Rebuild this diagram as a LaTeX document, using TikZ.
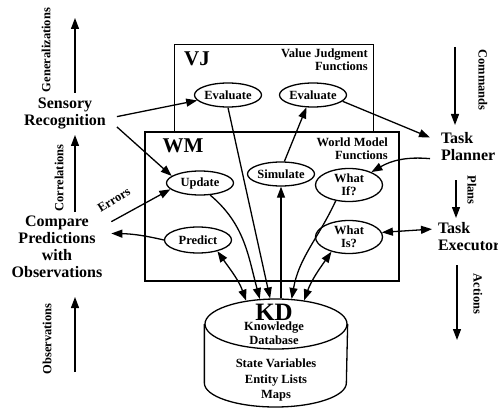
\documentclass[tikz,border=0pt]{standalone}
\usepackage{fontspec}
\setmainfont{Liberation Serif}
\usetikzlibrary{arrows.meta,shapes.geometric}
\begin{document}
\begin{tikzpicture}[x=1pt,y=-1pt,
  tip/.tip={Triangle[length=11pt,width=8pt]},
  arr/.style={line width=1.3pt,-tip},
  darr/.style={line width=1.3pt,tip-tip},
  fn/.style={draw,ellipse,line width=1.3pt,inner sep=0pt,minimum width=67pt,minimum height=24pt,
    font=\bfseries\fontsize{12.5}{13}\selectfont,align=center},
  big/.style={font=\bfseries\fontsize{16}{17}\selectfont,align=center,inner sep=0pt,outer xsep=11pt,outer ysep=3pt},
  small/.style={font=\bfseries\fontsize{12.5}{13}\selectfont,inner sep=0pt},
  huge/.style={font=\bfseries\fontsize{21}{21}\selectfont,inner sep=0pt}]
\useasboundingbox (0,0) rectangle (498,409);

% boxes
\draw[line width=0.8pt] (174,132) -- (174,44) -- (373,44) -- (373,132);
\draw[line width=1.8pt] (145,132) rectangle (399,281);

\node[huge] (vj) at (197,59) {VJ};
\node[small,align=right,anchor=east] (vjf) at (368,60) {Value Judgment\\Functions};
\node[huge] (wm) at (183,146) {WM};
\node[small,align=right,anchor=east] (wmf) at (388,149) {World Model\\Functions};

% function ellipses
\node[fn] (eval1) at (228,95) {Evaluate};
\node[fn] (eval2) at (313,95) {Evaluate};
\node[fn] (simulate) at (281,174) {Simulate};
\node[fn] (update) at (200,183) {Update};
\node[fn,minimum height=26pt] (predict) at (198,240) {Predict};
\node[fn,minimum height=33pt] (whatif) at (349,185) {What\\If?};
\node[fn,minimum height=33pt] (whatis) at (349,237) {What\\Is?};

% KD cylinder
\node[draw,ellipse,line width=1.3pt,minimum width=142pt,minimum height=50pt,inner sep=0pt] (kd) at (276,324) {};
\draw[line width=1.3pt] (kd.west) -- ++(0,59) arc[start angle=180,end angle=360,x radius=71pt,y radius=24pt] -- (kd.east);
\node[font=\bfseries\fontsize{25}{25}\selectfont,inner sep=0pt] (kdlabel) at (274,312) {KD};
\node[small,align=center,font=\bfseries\fontsize{12.5}{14}\selectfont] (kdname) at (274,333) {Knowledge\\Database};
\node[small,align=center,font=\bfseries\fontsize{12.5}{15.5}\selectfont] (kdcontent) at (276,380) {State Variables\\Entity Lists\\Maps};

% side texts
\node[big] (sensory) at (65,113) {Sensory\\Recognition};
\node[big,outer xsep=9pt] (compare) at (57,247) {Compare\\Predictions\\with\\Observations};
\node[big,align=left,anchor=west] (planner) at (430,147) {Task\\Planner};
\node[big,align=left,anchor=west,outer xsep=6pt] (executor) at (432,237) {Task\\Executor};

% vertical flow arrows
\coordinate (g0) at (75,93);  \coordinate (g1) at (75,18);
\coordinate (c0) at (75,212); \coordinate (c1) at (75,135);
\coordinate (o0) at (75,372); \coordinate (o1) at (75,297);
\coordinate (m0) at (455,47); \coordinate (m1) at (455,125);
\coordinate (p0) at (456,180); \coordinate (p1) at (456,218);
\coordinate (a0) at (457,265); \coordinate (a1) at (457,340);
\draw[arr] (g0) -- (g1);
\draw[arr] (c0) -- (c1);
\draw[arr] (o0) -- (o1);
\draw[arr] (m0) -- (m1);
\draw[arr] (p0) -- (p1);
\draw[arr] (a0) -- (a1);

\node[small,rotate=90] (lgen) at (46,50) {Generalizations};
\node[small,rotate=90] (lcor) at (59,178) {Correlations};
\node[small,rotate=90] (lobs) at (47,339) {Observations};
\node[small,rotate=-90] (lcom) at (483,80) {Commands};
\node[small,rotate=-90] (lpla) at (472,190) {Plans};
\node[small,rotate=-90] (lact) at (478,294) {Actions};
\node[small,rotate=32] (lerr) at (114,200) {Errors};

% connectors
\draw[arr] (sensory.-4) -- (eval1.190);
\draw[arr] (sensory.-15) -- (update.166);
\draw[arr] (compare.25) -- (update.192);
\draw[arr] (predict.west) to[bend right=6] (compare.14);
\draw[arr] (simulate.75) -- (eval2.-118);
\draw[arr] (eval2.-12) -- (planner.166);
\draw[arr] (planner.197) to[out=175,in=30] (whatif.30);
\draw[darr] (whatis.8) -- (executor.168);
\draw[arr] (eval1.south) -- (kd.103);
\draw[arr] (update.-50) to[out=-40,in=105] (kd.123);
\draw[darr] (predict.-30) to[out=-55,in=110] (kd.142);
\draw[arr] (simulate.south |- kd.north) -- (simulate.south);
\draw[arr] (whatif.-130) to[out=-115,in=80] (kd.58);
\draw[darr] (whatis.-140) to[out=-125,in=70] (kd.40);
\end{tikzpicture}
\end{document}
